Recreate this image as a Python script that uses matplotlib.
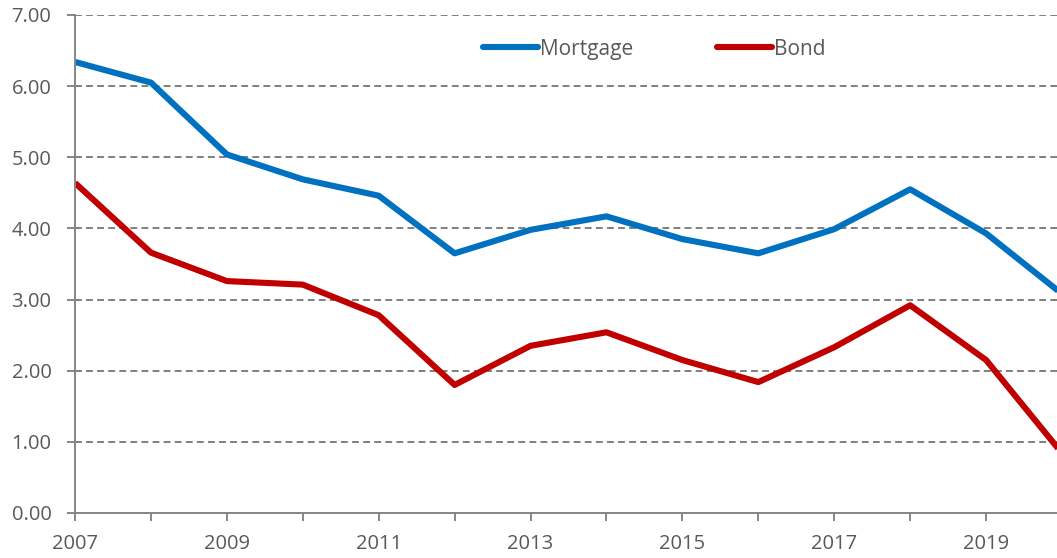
import matplotlib
matplotlib.use("Agg")
import matplotlib.pyplot as plt

# ── Data ─────────────────────────────────────────────────────────────────────
years    = [2007, 2008, 2009, 2010, 2011, 2012, 2013, 2014, 2015, 2016, 2017, 2018, 2019, 2020]
mortgage = [6.34, 6.05, 5.04, 4.69, 4.46, 3.65, 3.98, 4.17, 3.85, 3.65, 3.99, 4.55, 3.93, 3.08]
bond     = [4.64, 3.66, 3.26, 3.21, 2.78, 1.80, 2.35, 2.54, 2.15, 1.84, 2.33, 2.92, 2.15, 0.84]

BLUE = "#0070C0"
RED  = "#C00000"
GREY = "#595959"
AXIS = "#868686"

plt.rcParams.update({
    "font.family": ["Open Sans", "DejaVu Sans"],
    "font.size":   14.5,
})

fig = plt.figure(figsize=(10.57, 5.58), dpi=100)
W, H = 1057, 558
ax = fig.add_axes([75 / W, 45 / H, (1062 - 75) / W, (513 - 15) / H])

ax.plot(years, mortgage, color=BLUE, lw=4.4, label="Mortgage", solid_capstyle="butt")
ax.plot(years, bond, color=RED, lw=4.4, label="Bond", solid_capstyle="butt")

ax.set_xlim(2007, 2020)
ax.set_ylim(0, 7)
ax.set_yticks(range(0, 8))
ax.set_yticklabels([f"{v:.2f}" for v in range(0, 8)])
ax.set_xticks(years, minor=True)
ax.set_xticks(list(range(2007, 2021, 2)))

ax.grid(axis="y", color="#7F7F7F", linestyle=(0, (3.5, 2.2)), lw=1.4)
ax.set_axisbelow(True)
for s in ["top", "right"]:
    ax.spines[s].set_visible(False)
for s in ["left", "bottom"]:
    ax.spines[s].set_color(AXIS)
    ax.spines[s].set_linewidth(1.4)

ax.tick_params(axis="both", which="both", colors=AXIS, labelcolor=GREY,
               direction="out", length=6, width=1.4, labelsize=14.5)
ax.tick_params(axis="x", pad=9)
ax.tick_params(axis="y", pad=11)

leg = ax.legend(loc="upper center", bbox_to_anchor=(0.5 + 86 / 987, 0.99), ncol=2,
                frameon=False, handlelength=2.65, handletextpad=0.1,
                columnspacing=4.0, fontsize=15)
for t in leg.get_texts():
    t.set_color(GREY)
for l in leg.get_lines():
    l.set_solid_capstyle("round")

fig.savefig("out.png", dpi=100)
